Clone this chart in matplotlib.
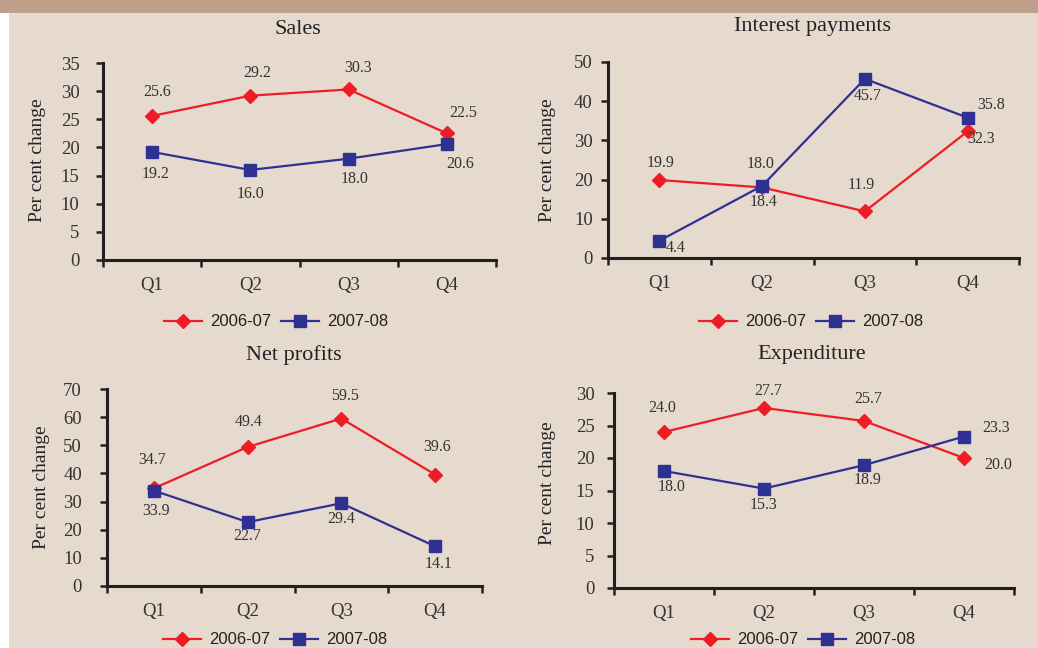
import matplotlib
matplotlib.use("Agg")
import matplotlib.pyplot as plt
from matplotlib.patches import Rectangle

# ---------------- data ----------------
quarters = ["Q1", "Q2", "Q3", "Q4"]
series_names = ["2006-07", "2007-08"]

sales_0607 = [25.6, 29.2, 30.3, 22.5]
sales_0708 = [19.2, 16.0, 18.0, 20.6]

interest_0607 = [19.9, 18.0, 11.9, 32.3]
interest_0708 = [4.4, 18.4, 45.7, 35.8]

netprofit_0607 = [34.7, 49.4, 59.5, 39.6]
netprofit_0708 = [33.9, 22.7, 29.4, 14.1]

expend_0607 = [24.0, 27.7, 25.7, 20.0]
expend_0708 = [18.0, 15.3, 18.9, 23.3]

titles = ["Sales", "Interest payments", "Net profits", "Expenditure"]
ylabel = "Per cent change"

# ---------------- style ----------------
W, H = 1038, 648
BG = "#e6dace"
BAND = "#c0a08a"
RED = "#ee1c25"
BLUE = "#2e3192"
AXC = "#231f20"
SERIF = "Liberation Serif"
SANS = "Liberation Sans"

fig = plt.figure(figsize=(W / 100, H / 100), dpi=100, facecolor=BG)
fig.patches.append(Rectangle((0, 1 - 13 / H), 1, 13 / H, transform=fig.transFigure,
                             facecolor=BAND, edgecolor="none", zorder=0))
fig.patches.append(Rectangle((0, 0), 9 / W, 1 - 13 / H, transform=fig.transFigure,
                             facecolor="white", edgecolor="none", zorder=0))

# panel layout in pixels: left, right, bottom(y of 0), top(y of max)
panels = [
    dict(x0=103, x1=496, yb=260, yt=63, ymax=35, step=5, data=(sales_0607, sales_0708),
         ypad=12, title=(298, 30), ylab=(38, 160), leg=(276, 322),
         off_r=[(5, 24), (7, 23), (9, 21), (16, 20)],
         off_b=[(3, -22), (0, -24), (6, -20), (13, -20)]),
    dict(x0=608, x1=1019, yb=258, yt=62, ymax=50, step=10, data=(interest_0607, interest_0708),
         ypad=6, title=(812, 27), ylab=(548, 160), leg=(811, 322),
         off_r=[(1, 17), (-2, 23), (-4, 26), (13, -8)],
         off_b=[(16, -7), (1, -16), (3, -17), (24, 13)]),
    dict(x0=107, x1=482, yb=586, yt=389, ymax=70, step=10, data=(netprofit_0607, netprofit_0708),
         ypad=13, title=(294, 355), ylab=(42, 487), leg=(275, 640),
         off_r=[(-2, 28), (1, 25), (4, 23), (2, 28)],
         off_b=[(2, -20), (0, -14), (0, -16), (3, -18)]),
    dict(x0=614, x1=1014, yb=588, yt=393, ymax=30, step=5, data=(expend_0607, expend_0708),
         ypad=9, title=(812, 355), ylab=(547, 483), leg=(803, 640),
         off_r=[(-2, 24), (4, 17), (4, 22), (34, -7)],
         off_b=[(8, -16), (0, -16), (4, -15), (32, 9)]),
]

for p, title in zip(panels, titles):
    ax = fig.add_axes([p["x0"] / W, 1 - p["yb"] / H, (p["x1"] - p["x0"]) / W,
                       (p["yb"] - p["yt"]) / H])
    ax.set_facecolor("none")
    xs = [i + 0.5 for i in range(len(quarters))]
    r, b = p["data"]
    l1, = ax.plot(xs, r, color=RED, lw=1.6, marker="D", ms=7.2, mec=RED, mfc=RED,
                  label=series_names[0], zorder=3)
    l2, = ax.plot(xs, b, color=BLUE, lw=1.6, marker="s", ms=8.5, mec=BLUE, mfc=BLUE,
                  label=series_names[1], zorder=4)
    for x, v, o in zip(xs, r, p["off_r"]):
        ax.annotate(f"{v:.1f}", (x, v), xytext=o, textcoords="offset pixels",
                    ha="center", va="center", fontsize=11.5, family=SERIF,
                    color="#333333", zorder=5)
    for x, v, o in zip(xs, b, p["off_b"]):
        ax.annotate(f"{v:.1f}", (x, v), xytext=o, textcoords="offset pixels",
                    ha="center", va="center", fontsize=11.5, family=SERIF,
                    color="#333333", zorder=5)
    ax.set_xlim(0, len(quarters))
    ax.set_ylim(0, p["ymax"])
    ax.set_xticks(range(len(quarters) + 1))
    ax.set_xticklabels([])
    ax.set_xticks(xs, minor=True)
    ax.set_xticklabels(quarters, minor=True, fontsize=13.5, family=SERIF, color="#333333")
    ax.tick_params(axis="x", which="minor", length=0, pad=12)
    ax.tick_params(axis="x", which="major", length=5, width=1.8, color=AXC, direction="out")
    ax.set_yticks(range(0, p["ymax"] + 1, p["step"]))
    ax.set_yticklabels([str(v) for v in range(0, p["ymax"] + 1, p["step"])],
                       fontsize=13.5, family=SERIF, color="#333333")
    ax.tick_params(axis="y", length=5, width=1.8, color=AXC, pad=p["ypad"])
    for s in ("top", "right"):
        ax.spines[s].set_visible(False)
    for s in ("left", "bottom"):
        ax.spines[s].set_linewidth(2.2)
        ax.spines[s].set_color(AXC)
    ax.spines["left"].set_zorder(6)
    ax.spines["bottom"].set_zorder(6)
    for ln in (l1, l2):
        ln.set_clip_on(False)

    fig.text(p["title"][0] / W, 1 - p["title"][1] / H, title, ha="center", va="center",
             fontsize=16, family=SERIF, color="#222222")
    fig.text(p["ylab"][0] / W, 1 - p["ylab"][1] / H, ylabel, ha="center", va="center",
             rotation=90, fontsize=14, family=SERIF, color="#222222")
    fig.legend(handles=[l1, l2], loc="center", ncol=2, frameon=False,
               bbox_to_anchor=(p["leg"][0] / W, 1 - p["leg"][1] / H),
               bbox_transform=fig.transFigure, prop=dict(family=SANS, size=12),
               handlelength=2.3, handletextpad=0.45, columnspacing=0.6, labelcolor="#222222")

fig.savefig("out.png", dpi=100, facecolor=BG)
